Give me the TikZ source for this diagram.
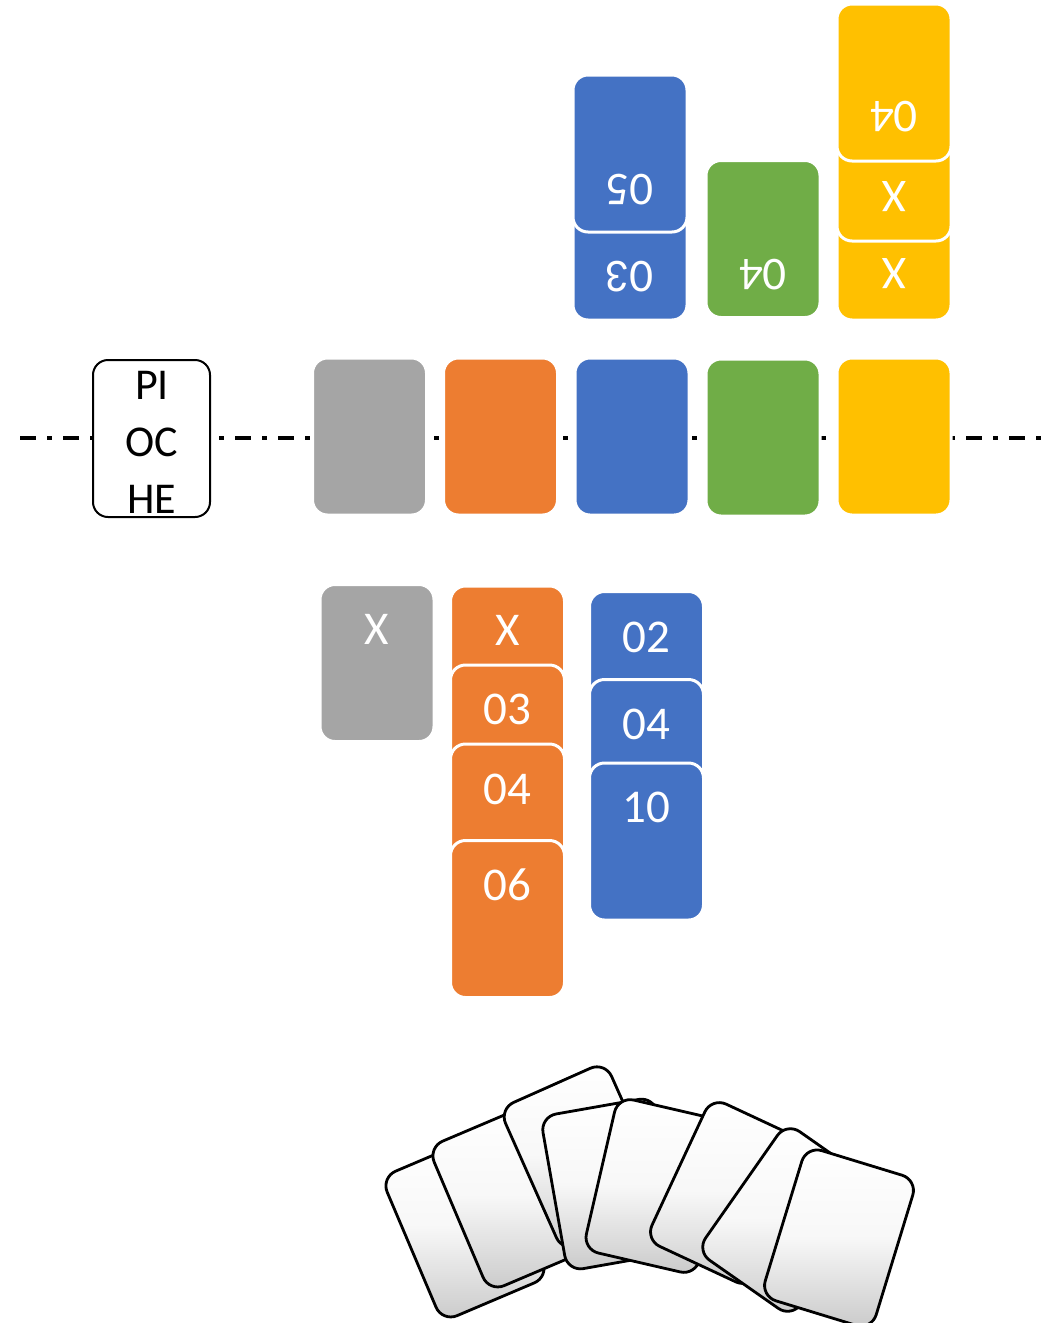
\documentclass[tikz,border=0pt]{standalone}
\usepackage{fontspec}
\setmainfont{Carlito}
\usepackage{tikz}
\usetikzlibrary{calc, shapes}
\tikzset{>=latex}
\definecolor{cgray}{RGB}{165, 165, 165}
\definecolor{corange}{RGB}{237, 125, 49}
\definecolor{cblue}{RGB}{68, 114, 196}
\definecolor{cgreen}{RGB}{112, 173, 71}
\definecolor{cyellow}{RGB}{255, 192, 0}
\tikzset{
  card/.style={rectangle, rounded corners=15pt, minimum width=114pt, minimum height=157pt, inner sep=0pt, draw=white, line width=3pt},
  val/.style={text=white, font=\fontsize{47}{50}\selectfont, inner sep=0pt},
  hand/.style={rectangle, rounded corners=16pt, minimum width=116pt, minimum height=157pt, inner sep=0pt, draw=black, line width=2.8pt, top color=white, bottom color=black!21, middle color=white!97!black}
}

\begin{document}
\begin{tikzpicture}[x=1pt, y=-1pt]
\useasboundingbox (0,0) rectangle (1064,1323);

\coordinate (l0) at (20,438);
\coordinate (l1) at (1050,438);
\draw[line width=4pt, dash pattern=on 16pt off 11pt on 5pt off 11pt] (l0) -- (l1);

\node[rectangle, draw, fill=white, rounded corners=15pt, line width=2pt, minimum width=117pt, minimum height=157pt] (pio) at (151.5,438.5) {};
\node[font=\fontsize{44}{57}\selectfont, align=center, inner sep=0pt] (piot) at (152,442) {PI\\OC\\HE};

\node[card, fill=cgray] (m1) at (369.5,436.5) {};
\node[card, fill=corange] (m2) at (500.5,436.5) {};
\node[card, fill=cblue] (m3) at (632,436.5) {};
\node[card, fill=cgreen] (m4) at (763,437.5) {};
\node[card, fill=cyellow] (m5) at (894,436.5) {};

\node[card, fill=cblue] (b1) at (630,241.5) {};
\node[val, rotate=180] (b1v) at (630,277) {03};
\node[card, fill=cblue] (b2) at (630,153.5) {};
\node[val, rotate=180] (b2v) at (630,190) {05};

\node[card, fill=cgreen] (v1) at (763,239) {};
\node[val, rotate=180] (v1v) at (763,275) {04};

\node[card, fill=cyellow] (y1) at (894,241.5) {};
\node[val, rotate=180] (y1v) at (894,274) {X};
\node[card, fill=cyellow] (y2) at (894,162.5) {};
\node[val, rotate=180] (y2v) at (894,197) {X};
\node[card, fill=cyellow] (y3) at (894,82.5) {};
\node[val, rotate=180] (y3v) at (894,117) {04};

\node[card, fill=cgray] (g1) at (377,663) {};
\node[val] (g1v) at (377,629) {X};

\node[card, fill=corange] (o1) at (507.5,664.5) {};
\node[val] (o1v) at (507.5,630) {X};
\node[card, fill=corange] (o2) at (507.5,743.5) {};
\node[val] (o2v) at (507.5,709) {03};
\node[card, fill=corange] (o3) at (507.5,822.5) {};
\node[val] (o3v) at (507.5,789) {04};
\node[card, fill=corange] (o4) at (507.5,919) {};
\node[val] (o4v) at (507.5,885) {06};

\node[card, fill=cblue] (c1) at (646.5,670) {};
\node[val] (c1v) at (646.5,637) {02};
\node[card, fill=cblue] (c2) at (646.5,758) {};
\node[val] (c2v) at (646.5,724) {04};
\node[card, fill=cblue] (c3) at (646.5,841.5) {};
\node[val] (c3v) at (646.5,807) {10};

\node[hand, rotate=23] (h1) at (465,1227) {};
\node[hand, rotate=23] (h2) at (512,1197) {};
\node[hand, rotate=24] (h3) at (584,1157) {};
\node[hand, rotate=10] (h4) at (611,1184) {};
\node[hand, rotate=-13] (h5) at (657,1186) {};
\node[hand, rotate=-25] (h6) at (731,1193) {};
\node[hand, rotate=-35] (h7) at (789,1220) {};
\node[hand, rotate=-17] (h8) at (839,1238) {};
\end{tikzpicture}
\end{document}
